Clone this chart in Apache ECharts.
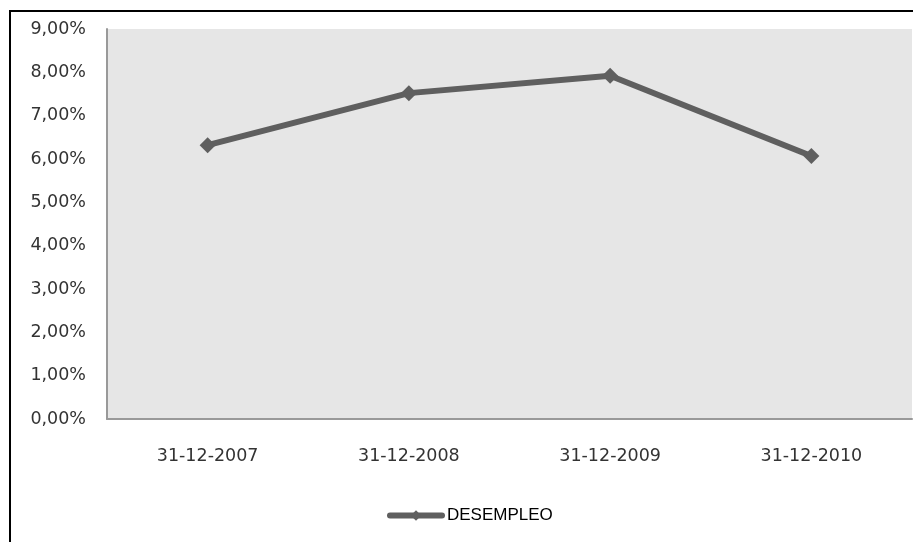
<!DOCTYPE html>
<html>
<head>
<meta charset="utf-8">
<script src="https://cdn.jsdelivr.net/npm/echarts@6/dist/echarts.min.js"></script>
<style>
  html, body { margin: 0; padding: 0; background: #fff; }
  #chart { width: 913px; height: 542px; }
</style>
</head>
<body>
<div id="chart"></div>
<script>
var categories = ['31-12-2007', '31-12-2008', '31-12-2009', '31-12-2010'];
var desempleo = [0.0632, 0.0752, 0.0792, 0.0607];
var seriesName = 'DESEMPLEO';

var chart = echarts.init(document.getElementById('chart'));

// formato de porcentaje con coma decimal
var pct = function (v) {
  return (v * 100).toFixed(2).replace('.', ',') + '%';
};

var option = {
  backgroundColor: '#ffffff',
  animation: false,
  textStyle: { fontFamily: 'DejaVu Sans' },
  graphic: [{
    type: 'rect',
    silent: true,
    shape: { x: 10, y: 11, width: 1000, height: 600 },
    style: { fill: 'none', stroke: '#000000', lineWidth: 2 }
  }],
  grid: {
    left: 107,
    top: 29,
    right: 1,
    bottom: 123,
    show: true,
    backgroundColor: '#e6e6e6',
    borderWidth: 0
  },
  legend: {
    left: 382,
    top: 502,
    itemWidth: 52,
    itemHeight: 13,
    itemGap: 3,
    lineStyle: { width: 6, cap: 'round' },
    textStyle: { fontFamily: 'Liberation Sans', fontSize: 17, color: '#000' },
    data: [seriesName]
  },
  xAxis: {
    type: 'category',
    data: categories,
    boundaryGap: true,
    axisLine: { show: true, lineStyle: { color: '#999999', width: 2 } },
    axisTick: { show: false },
    axisLabel: { color: '#333333', fontSize: 17.5, margin: 28 },
    splitLine: { show: false }
  },
  yAxis: {
    type: 'value',
    min: 0,
    max: 0.09,
    interval: 0.01,
    axisLine: { show: true, lineStyle: { color: '#999999', width: 2 } },
    axisTick: { show: false },
    axisLabel: { color: '#333333', fontSize: 17.5, margin: 21, formatter: pct },
    splitLine: { show: false }
  },
  series: [{
    name: seriesName,
    type: 'line',
    data: desempleo,
    symbol: 'diamond',
    symbolSize: 16,
    lineStyle: { color: '#5f5f5f', width: 6 },
    itemStyle: { color: '#5f5f5f' }
  }]
};

chart.setOption(option);
</script>
</body>
</html>
